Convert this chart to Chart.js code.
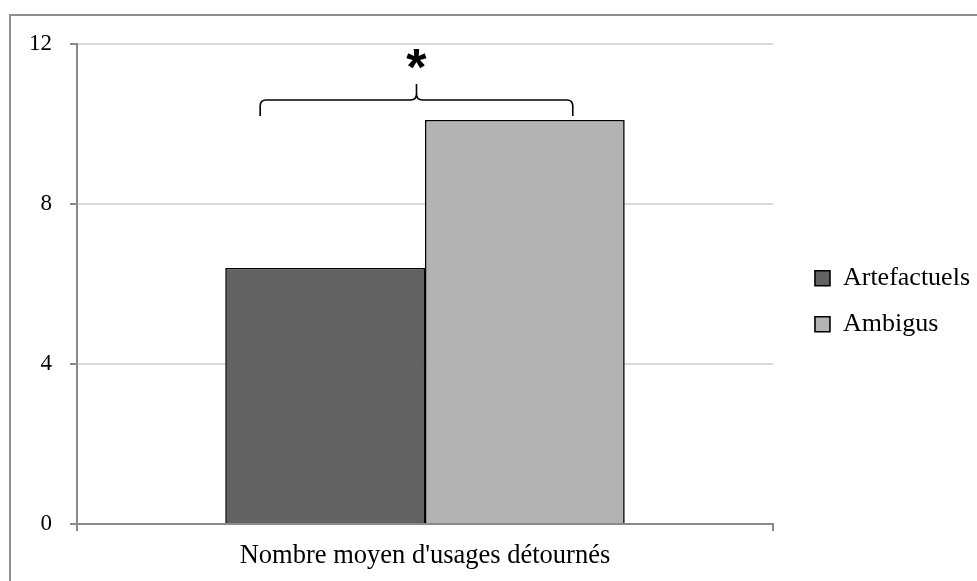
<!DOCTYPE html>
<html lang="fr">
<head>
<meta charset="UTF-8">
<title>Nombre moyen d'usages détournés</title>
<script src="https://cdn.jsdelivr.net/npm/chart.js"></script>
<style>
  body { margin: 0; background: #fff; }
  #wrap { position: relative; width: 977px; height: 581px; overflow: hidden; }
  #frame { position: absolute; left: 9px; top: 14px; width: 2000px; height: 2000px;
           border-left: 2px solid #8f8f8f; border-top: 2px solid #8f8f8f; }
  #myChart { position: absolute; left: 0; top: 0; }
</style>
</head>
<body>
<div id="wrap">
  <div id="frame"></div>
  <canvas id="myChart" width="977" height="581"></canvas>
</div>
<script>
// données
const categories = ["Nombre moyen d'usages détournés"];
const artefactuels = [6.4];
const ambigus = [10.1];
const seriesNames = ["Artefactuels", "Ambigus"];
const yTicks = [0, 4, 8, 12];

// accolade + étoile de significativité (en unités de l'axe y)
const signif = { yBase: 10.2, yLine: 10.6, yTip: 11.0, yStar: 11.55, label: "*" };

const serif = "'Liberation Serif', 'Times New Roman', serif";

// l'accolade entre les deux barres
const bracePlugin = {
    id: "brace",
    afterDatasetsDraw(chart) {
        const b0 = chart.getDatasetMeta(0).data[0];
        const b1 = chart.getDatasetMeta(1).data[0];
        if (!b0 || !b1) return;
        const y = chart.scales.y;
        const x0 = b0.x - b0.width / 2 + 0.175 * b0.width;
        const x1 = b1.x - b1.width / 2 + 0.74 * b1.width;
        const xm = (x0 + x1) / 2;
        const yb = y.getPixelForValue(signif.yBase);
        const yl = y.getPixelForValue(signif.yLine);
        const yt = y.getPixelForValue(signif.yTip);
        const r = 6;
        const c = chart.ctx;
        c.save();
        c.strokeStyle = "#000";
        c.lineWidth = 1.6;
        c.beginPath();
        c.moveTo(x0, yb);
        c.lineTo(x0, yl + r);
        c.quadraticCurveTo(x0, yl, x0 + r, yl);
        c.lineTo(xm - r, yl);
        c.quadraticCurveTo(xm, yl, xm, yl - r);
        c.lineTo(xm, yt);
        c.moveTo(xm, yl - r);
        c.quadraticCurveTo(xm, yl, xm + r, yl);
        c.lineTo(x1 - r, yl);
        c.quadraticCurveTo(x1, yl, x1, yl + r);
        c.lineTo(x1, yb);
        c.stroke();
        c.fillStyle = "#000";
        c.font = "bold 52px 'Liberation Sans', Arial, sans-serif";
        c.textAlign = "center";
        c.textBaseline = "middle";
        c.fillText(signif.label, xm, y.getPixelForValue(signif.yStar) + 9);
        c.restore();
    }
};

// décale la légende comme sur l'original
const legendShift = {
    id: "legendShift",
    afterLayout(chart) {
        const lg = chart.legend;
        if (!lg) return;
        lg.left += 22; lg.right += 22;
        lg.top -= 11; lg.bottom -= 11;
    }
};

const ctx = document.querySelector("#myChart");
const usageChart = new Chart(ctx, {
    type: "bar",
    data: {
        labels: categories,
        datasets: [
            {
                label: seriesNames[0],
                data: artefactuels,
                backgroundColor: "#626262",
                borderColor: "#000",
                borderWidth: 1.6
            },
            {
                label: seriesNames[1],
                data: ambigus,
                backgroundColor: "#b3b3b3",
                borderColor: "#000",
                borderWidth: 1.6
            }
        ]
    },
    options: {
        responsive: false,
        animation: false,
        layout: { padding: { top: 44, left: 11, right: 19, bottom: 0.5 } },
        datasets: {
            bar: { barPercentage: 1, categoryPercentage: 0.574 }
        },
        plugins: {
            tooltip: { enabled: false },
            legend: {
                position: "right",
                labels: {
                    boxWidth: 15,
                    boxHeight: 15,
                    padding: 20,
                    color: "#000",
                    font: { family: serif, size: 26 }
                }
            }
        },
        scales: {
            x: {
                grid: { drawOnChartArea: false, offset: true, tickLength: 7, tickColor: "#8a8a8a", lineWidth: 2 },
                border: { color: "#8a8a8a", width: 2 },
                ticks: { color: "#000", padding: 11.5, font: { family: serif, size: 26.5, lineHeight: 1.0 } }
            },
            y: {
                min: 0,
                max: 12,
                afterBuildTicks(scale) { scale.ticks = yTicks.map(v => ({ value: v })); },
                grid: { color: "#d9d9d9", lineWidth: 2, tickLength: 7, tickColor: "#8a8a8a" },
                border: { color: "#8a8a8a", width: 2 },
                ticks: { color: "#000", padding: 18, font: { family: serif, size: 23 } }
            }
        }
    },
    plugins: [bracePlugin, legendShift]
});
</script>
</body>
</html>
